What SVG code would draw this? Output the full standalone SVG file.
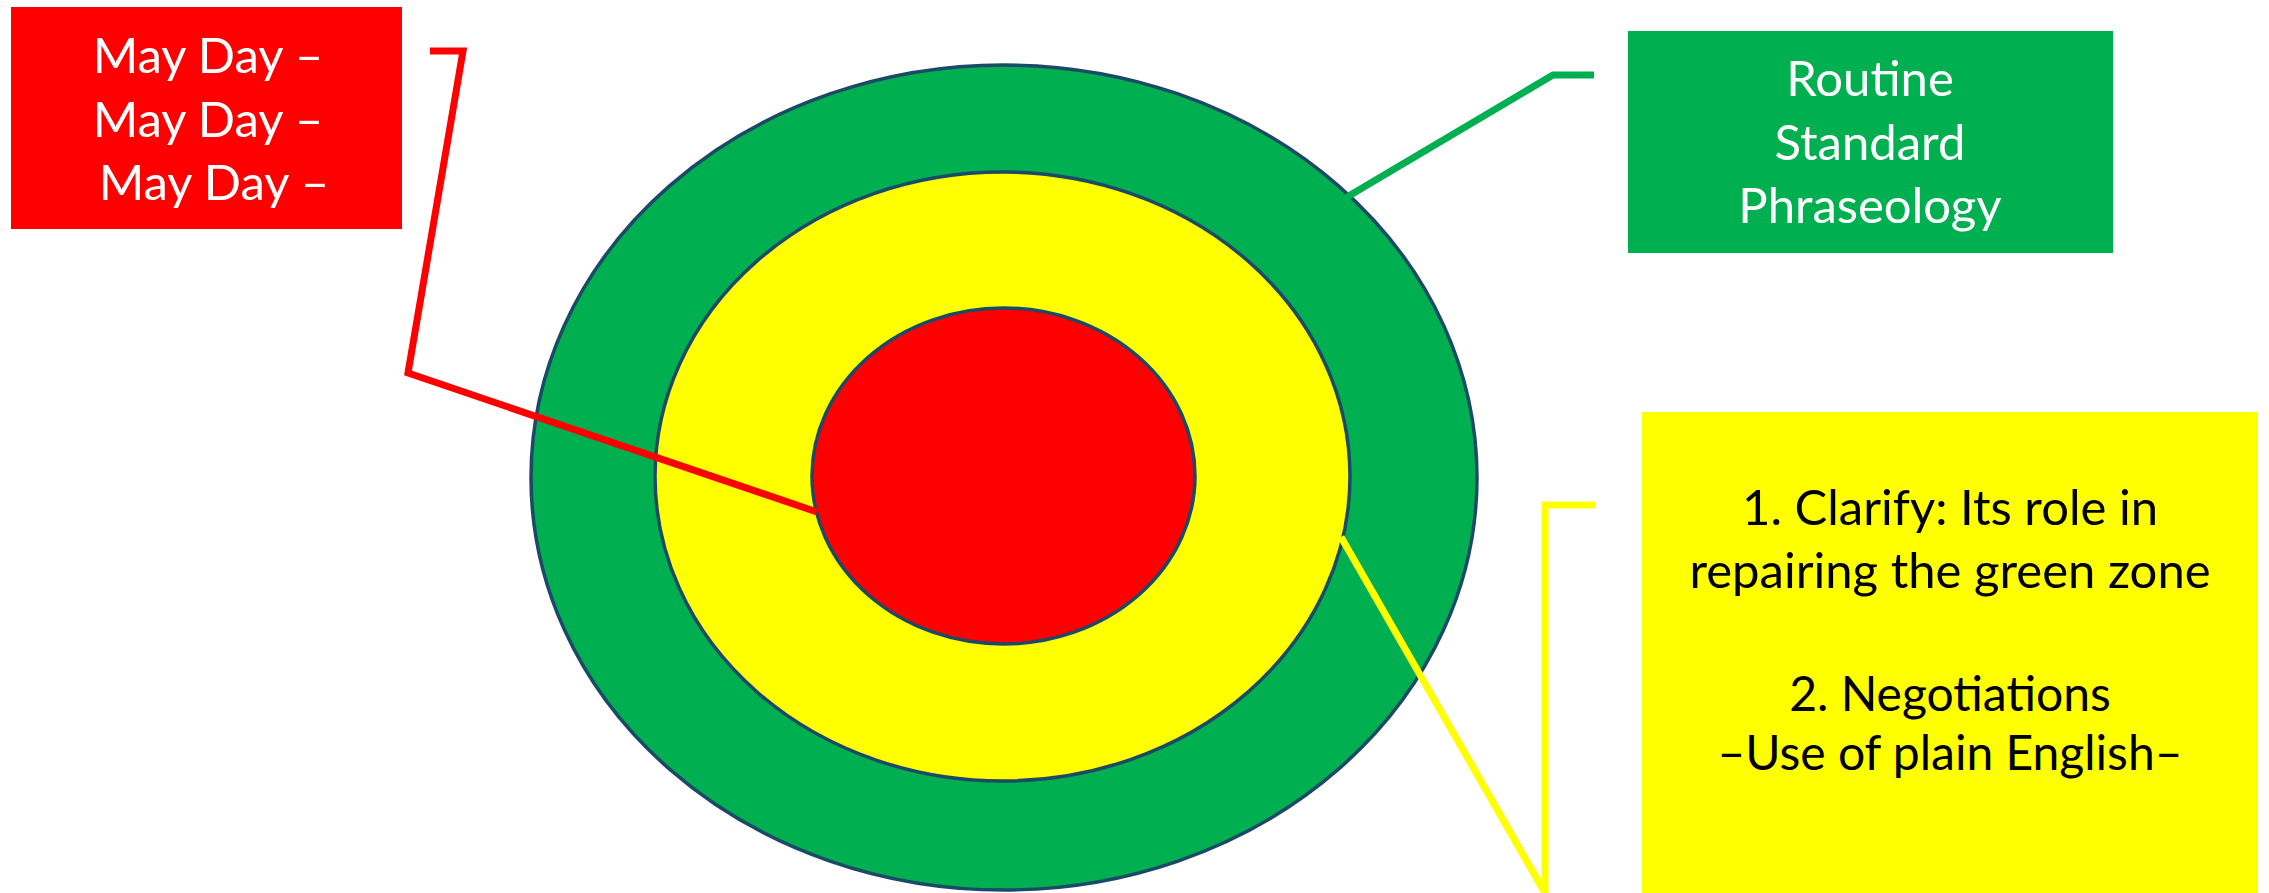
<svg xmlns="http://www.w3.org/2000/svg" width="2269" height="893" viewBox="0 0 2269 893">
<style>
.ring{stroke:#1A4A66;stroke-width:3.5}
.conn{fill:none;stroke-width:7;stroke-linejoin:miter}
.t{font-family:Lato,"Open Sans","Liberation Sans",sans-serif;font-size:49px;text-anchor:middle}
.s{font-size:48px}
.w{fill:#FFFFFF}
.k{fill:#000000}
</style>
<rect width="2269" height="893" fill="#FFFFFF"/>
<g id="target">
<ellipse id="green-zone" class="ring" cx="1004" cy="477.5" rx="473" ry="412.5" fill="#00B050"/>
<ellipse id="yellow-zone" class="ring" cx="1002.5" cy="476.5" rx="347.5" ry="304.5" fill="#FFFF00"/>
<ellipse id="red-zone" class="ring" cx="1003.5" cy="476" rx="191.5" ry="168" fill="#FF0000"/>
</g>
<g id="connectors">
<polyline class="conn" stroke="#FF0000" points="430,51 463,51 408,373 817,512"/>
<polyline class="conn" stroke="#00B050" points="1594,75 1553,75 1347,197"/>
<polyline class="conn" stroke="#FFFF00" points="1595,505 1545,505 1545,893 1341,537"/>
</g>
<g id="mayday-box">
<rect x="11" y="7" width="391" height="222" fill="#FF0000"/>
<text class="t w"><tspan x="208" y="73">May Day –</tspan><tspan x="208" y="137">May Day –</tspan><tspan x="214" y="200">May Day –</tspan></text>
</g>
<g id="routine-box">
<rect x="1628" y="31" width="485" height="222" fill="#00B050"/>
<text class="t w"><tspan x="1870" y="96">Routine</tspan><tspan x="1870" y="160">Standard</tspan><tspan x="1870" y="223">Phraseology</tspan></text>
</g>
<g id="clarify-box">
<rect x="1642" y="412" width="616" height="481" fill="#FFFF00"/>
<text class="t k"><tspan x="1950" y="525">1. Clarify: Its role in</tspan><tspan x="1950" y="588">repairing the green zone</tspan></text>
<text class="t k s"><tspan x="1950" y="711">2. Negotiations</tspan><tspan x="1950" y="770">–Use of plain English–</tspan></text>
</g>
</svg>
